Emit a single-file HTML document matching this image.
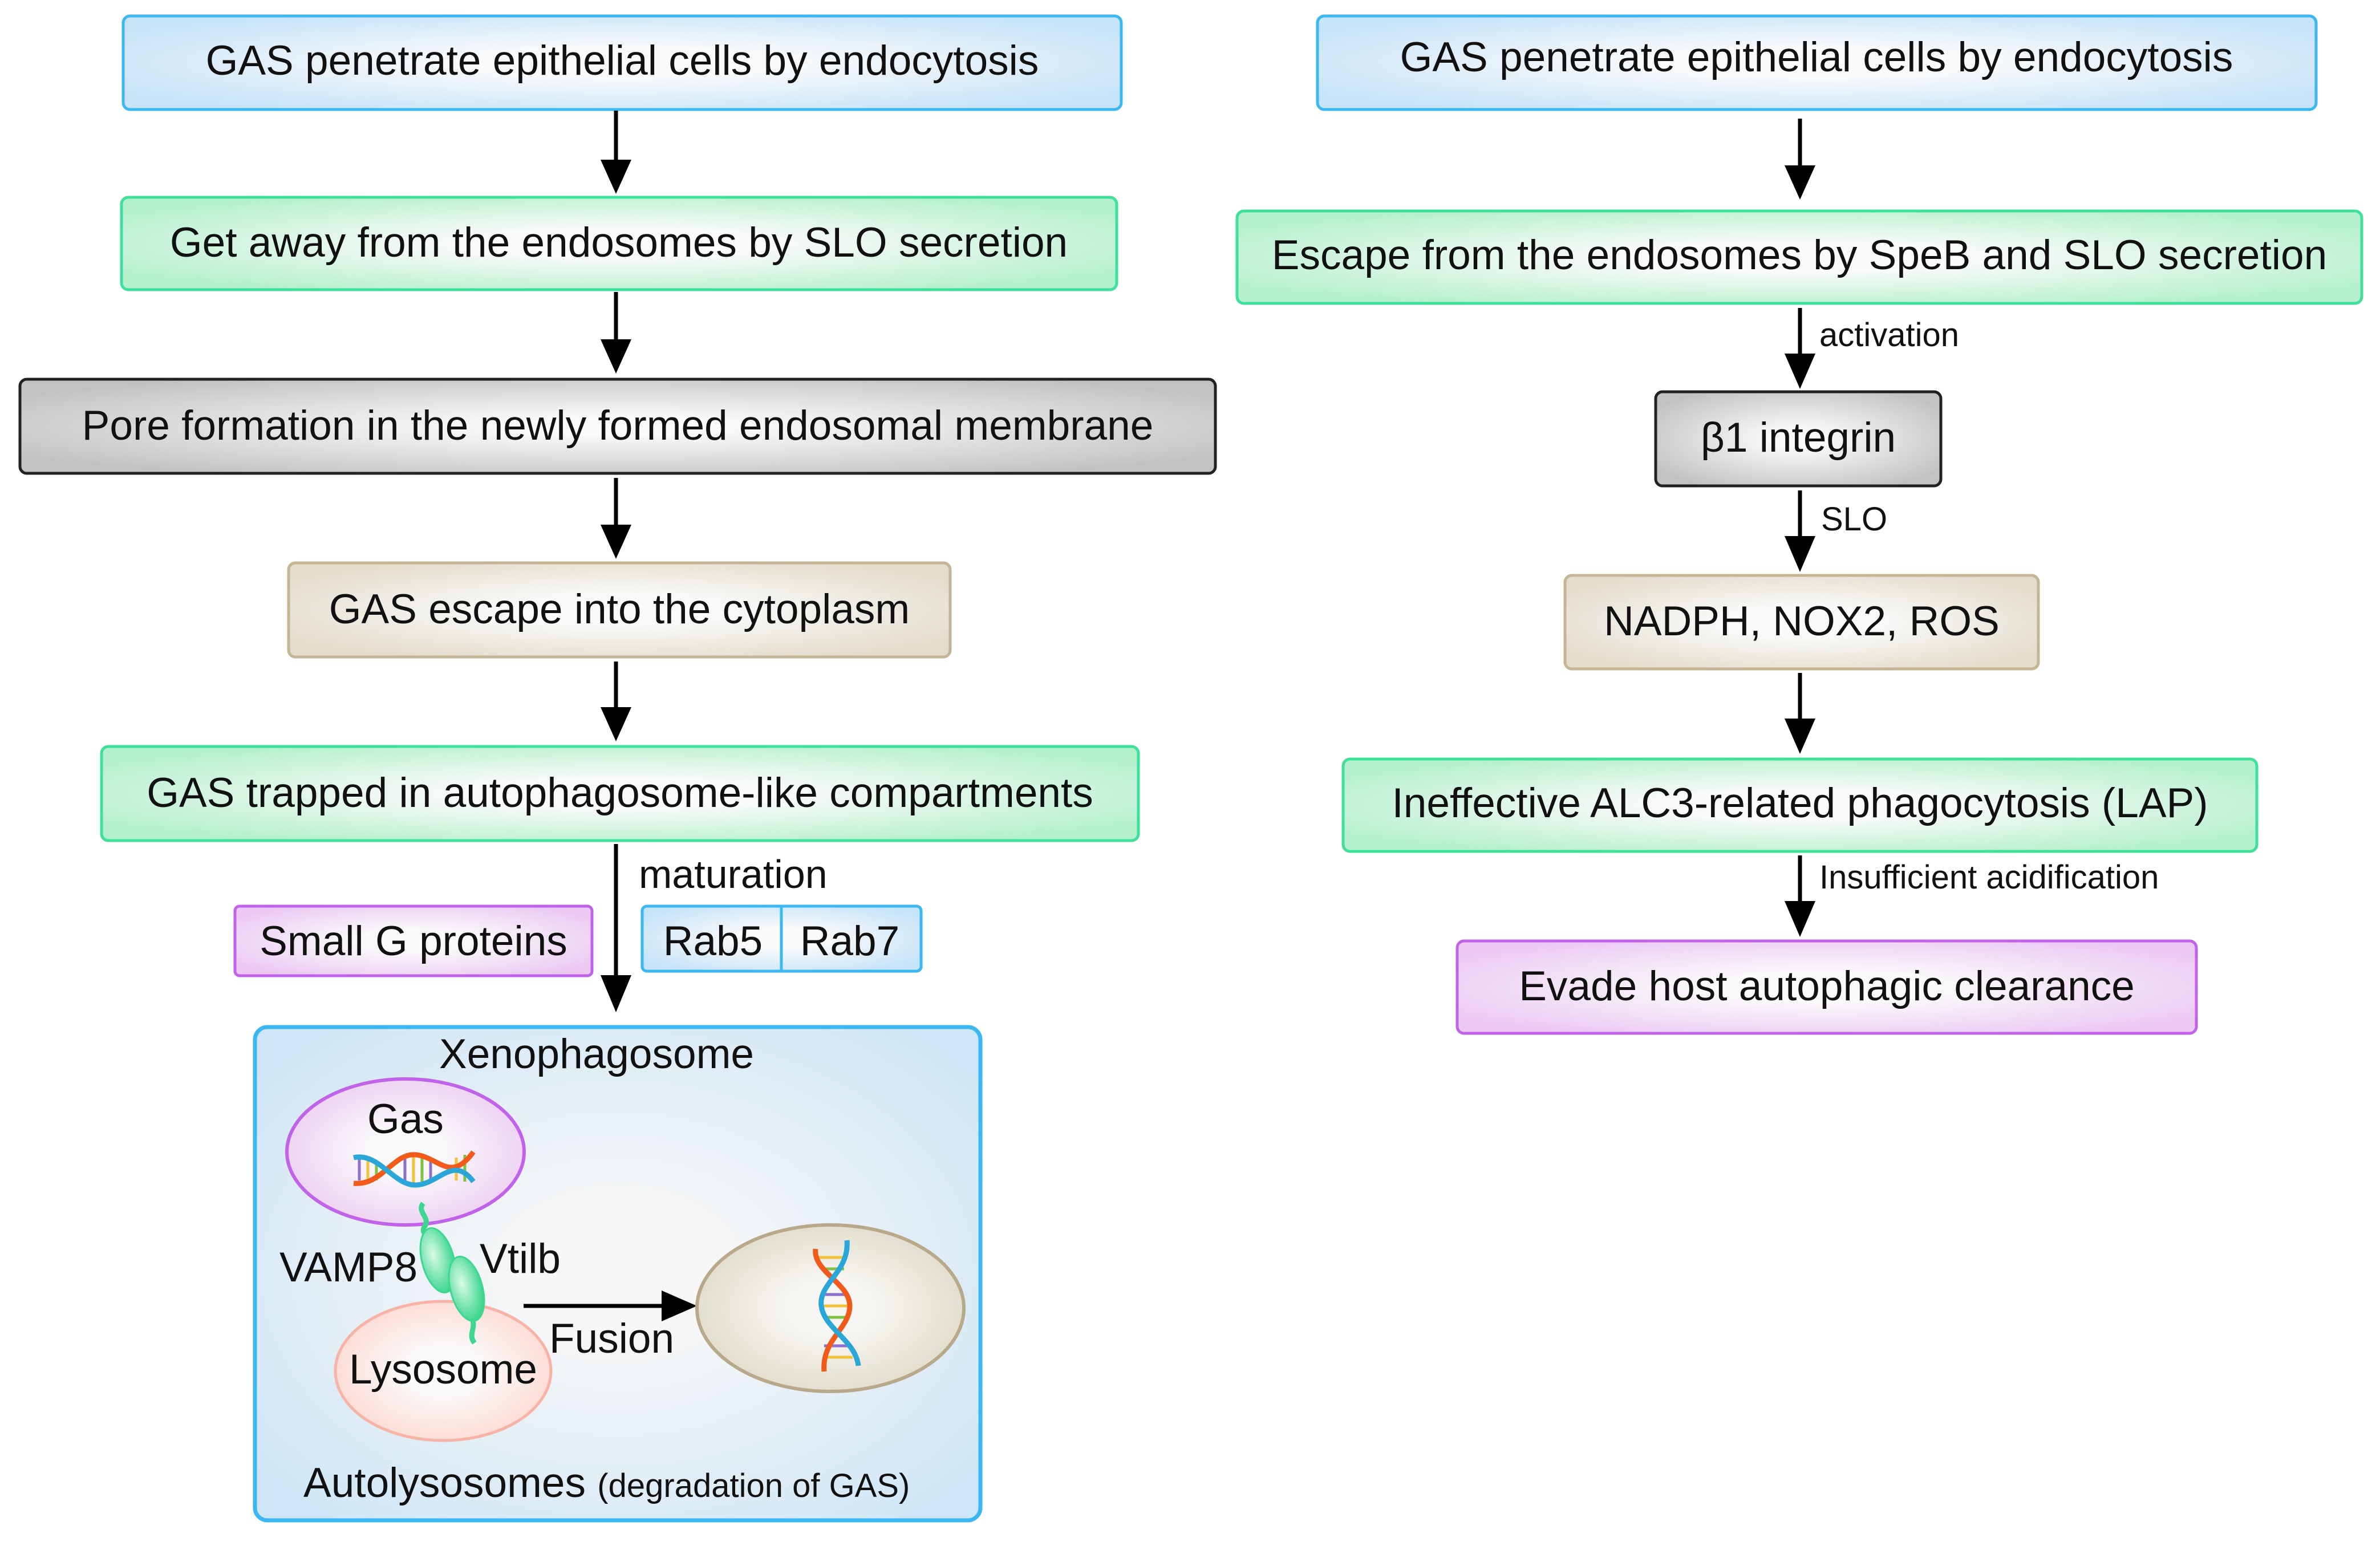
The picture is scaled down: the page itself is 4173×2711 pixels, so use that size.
<!DOCTYPE html>
<html><head><meta charset="utf-8"><style>
html,body{margin:0;padding:0;background:#fff}
svg{display:block}
text{font-family:"Liberation Sans",Arial,sans-serif;fill:#111}
</style></head><body>
<svg width="4173" height="2711" viewBox="0 0 4173 2711" xmlns="http://www.w3.org/2000/svg">
<defs>
<radialGradient id="gb" cx="50%" cy="50%" r="60%"><stop offset="0.25" stop-color="#fafafa"/><stop offset="1" stop-color="#c6e3f8"/></radialGradient>
<radialGradient id="gg" cx="50%" cy="50%" r="60%"><stop offset="0.25" stop-color="#fafafa"/><stop offset="1" stop-color="#b3f0cc"/></radialGradient>
<radialGradient id="gk" cx="50%" cy="50%" r="60%"><stop offset="0.15" stop-color="#fafafa"/><stop offset="1" stop-color="#c2c2c2"/></radialGradient>
<radialGradient id="gt" cx="50%" cy="50%" r="60%"><stop offset="0.25" stop-color="#fafafa"/><stop offset="1" stop-color="#e2dccb"/></radialGradient>
<radialGradient id="gp" cx="50%" cy="50%" r="60%"><stop offset="0.25" stop-color="#fafafa"/><stop offset="1" stop-color="#ebc9f2"/></radialGradient>
<radialGradient id="gx" cx="50%" cy="50%" r="65%"><stop offset="0.2" stop-color="#f7f7f7"/><stop offset="1" stop-color="#cfe6f6"/></radialGradient>
<radialGradient id="gl" cx="50%" cy="50%" r="55%"><stop offset="0.3" stop-color="#fafafa"/><stop offset="1" stop-color="#fcd9d2"/></radialGradient>
<radialGradient id="ge" cx="50%" cy="50%" r="55%"><stop offset="0.3" stop-color="#f7f6f2"/><stop offset="1" stop-color="#e0dbc9"/></radialGradient>
<radialGradient id="gv" cx="40%" cy="40%" r="60%"><stop offset="0" stop-color="#d9fbe8"/><stop offset="1" stop-color="#3fd690"/></radialGradient>
</defs>

<g stroke-width="5">
<rect x="216" y="28" width="1750" height="164" rx="12" fill="url(#gb)" stroke="#3bb7f2"/>
<rect x="213" y="346" width="1745" height="162" rx="12" fill="url(#gg)" stroke="#3fe09a"/>
<rect x="35" y="665" width="2096" height="165" rx="12" fill="url(#gk)" stroke="#222"/>
<rect x="506" y="987" width="1160" height="165" rx="12" fill="url(#gt)" stroke="#c4b594"/>
<rect x="178" y="1309" width="1818" height="165" rx="12" fill="url(#gg)" stroke="#3fe09a"/>
<rect x="412" y="1589" width="626" height="122" rx="8" fill="url(#gp)" stroke="#c063ea"/>
<rect x="1126" y="1589" width="489" height="114" rx="8" fill="url(#gb)" stroke="#3bb7f2"/>
<line x1="1370" y1="1589" x2="1370" y2="1703" stroke="#3bb7f2"/>
<rect x="447" y="1801" width="1272" height="865" rx="22" fill="url(#gx)" stroke="#3bb7f2" stroke-width="7"/>

<rect x="2310" y="28" width="1751" height="164" rx="12" fill="url(#gb)" stroke="#3bb7f2"/>
<rect x="2169" y="370" width="1972" height="162" rx="12" fill="url(#gg)" stroke="#3fe09a"/>
<rect x="2903" y="687" width="500" height="165" rx="12" fill="url(#gk)" stroke="#222"/>
<rect x="2744" y="1009" width="830" height="164" rx="12" fill="url(#gt)" stroke="#c4b594"/>
<rect x="2355" y="1331" width="1602" height="162" rx="12" fill="url(#gg)" stroke="#3fe09a"/>
<rect x="2555" y="1650" width="1296" height="162" rx="12" fill="url(#gp)" stroke="#c063ea"/>
</g>

<g font-size="73" text-anchor="middle">
<text x="1091" y="131">GAS penetrate epithelial cells by endocytosis</text>
<text x="1085" y="450">Get away from the endosomes by SLO secretion</text>
<text x="1083" y="771">Pore formation in the newly formed endosomal membrane</text>
<text x="1086" y="1093">GAS escape into the cytoplasm</text>
<text x="1087" y="1415">GAS trapped in autophagosome-like compartments</text>
<text x="725" y="1675">Small G proteins</text>
<text x="1250" y="1675">Rab5</text>
<text x="1490" y="1675">Rab7</text>
<text x="1046" y="1873">Xenophagosome</text>
<text x="3185" y="125">GAS penetrate epithelial cells by endocytosis</text>
<text x="3155" y="472">Escape from the endosomes by SpeB and SLO secretion</text>
<text x="3153" y="792">β1 integrin</text>
<text x="3159" y="1114">NADPH, NOX2, ROS</text>
<text x="3156" y="1433">Ineffective ALC3-related phagocytosis (LAP)</text>
<text x="3203" y="1754">Evade host autophagic clearance</text>
</g>
<text x="1120" y="1557" font-size="70">maturation</text>
<g font-size="58">
<text x="3190" y="607">activation</text>
<text x="3193" y="930">SLO</text>
<text x="3190" y="1558">Insufficient acidification</text>
</g>

<g stroke="#000" stroke-width="7">
<line x1="1080" y1="194" x2="1080" y2="290"/>
<line x1="1080" y1="512" x2="1080" y2="605"/>
<line x1="1080" y1="838" x2="1080" y2="930"/>
<line x1="1080" y1="1160" x2="1080" y2="1250"/>
<line x1="1080" y1="1480" x2="1080" y2="1720"/>
<line x1="3156" y1="208" x2="3156" y2="300"/>
<line x1="3156" y1="540" x2="3156" y2="630"/>
<line x1="3156" y1="860" x2="3156" y2="950"/>
<line x1="3156" y1="1180" x2="3156" y2="1270"/>
<line x1="3156" y1="1500" x2="3156" y2="1590"/>
<line x1="918" y1="2290" x2="1170" y2="2290"/>
</g>
<g fill="#000">
<polygon points="1053,280 1107,280 1080,340"/>
<polygon points="1053,595 1107,595 1080,655"/>
<polygon points="1053,920 1107,920 1080,980"/>
<polygon points="1053,1240 1107,1240 1080,1300"/>
<polygon points="1053,1710 1107,1710 1080,1775"/>
<polygon points="3129,290 3183,290 3156,350"/>
<polygon points="3129,620 3183,620 3156,682"/>
<polygon points="3129,940 3183,940 3156,1003"/>
<polygon points="3129,1260 3183,1260 3156,1322"/>
<polygon points="3129,1580 3183,1580 3156,1643"/>
<polygon points="1160,2263 1160,2317 1222,2290"/>
</g>

<ellipse cx="711" cy="2020" rx="208" ry="128" fill="url(#gp)" stroke="#c063ea" stroke-width="6"/>
<ellipse cx="777" cy="2404" rx="189" ry="122" fill="url(#gl)" stroke="#f9b3a6" stroke-width="5"/>
<ellipse cx="1456" cy="2294" rx="234" ry="146" fill="url(#ge)" stroke="#b7a98a" stroke-width="6"/>

<g transform="translate(620,2050)">
<g stroke-width="5">
<line x1="10" y1="-25" x2="10" y2="20" stroke="#8e6fd0"/><line x1="25" y1="-20" x2="25" y2="25" stroke="#f2c23a"/>
<line x1="40" y1="-12" x2="40" y2="20" stroke="#7fc241"/><line x1="90" y1="-20" x2="90" y2="25" stroke="#8e6fd0"/>
<line x1="105" y1="-25" x2="105" y2="25" stroke="#f2c23a"/><line x1="120" y1="-22" x2="120" y2="22" stroke="#7fc241"/>
<line x1="135" y1="-15" x2="135" y2="18" stroke="#8e6fd0"/><line x1="180" y1="-20" x2="180" y2="20" stroke="#f2c23a"/>
<line x1="195" y1="-25" x2="195" y2="22" stroke="#7fc241"/>
</g>
<path d="M0,25 C50,30 70,-30 110,-25 S170,25 210,-30" fill="none" stroke="#f25a1c" stroke-width="9"/>
<path d="M0,-20 C45,-30 70,30 110,28 S175,-25 210,22" fill="none" stroke="#2ba6d8" stroke-width="9"/>
</g>
<g transform="translate(1465,2290)">
<g stroke-width="5">
<line x1="-30" y1="-85" x2="20" y2="-85" stroke="#f2c23a"/><line x1="-25" y1="-65" x2="15" y2="-65" stroke="#7fc241"/>
<line x1="-20" y1="-20" x2="20" y2="-20" stroke="#8e6fd0"/><line x1="-25" y1="0" x2="25" y2="0" stroke="#f2c23a"/>
<line x1="-20" y1="20" x2="20" y2="20" stroke="#7fc241"/><line x1="-20" y1="70" x2="25" y2="70" stroke="#8e6fd0"/>
<line x1="-20" y1="90" x2="30" y2="90" stroke="#f2c23a"/>
</g>
<path d="M-35,-100 C-40,-60 25,-40 25,0 S-25,60 -20,115" fill="none" stroke="#f25a1c" stroke-width="9"/>
<path d="M20,-115 C25,-60 -30,-40 -25,0 S35,60 40,105" fill="none" stroke="#2ba6d8" stroke-width="9"/>
</g>

<path d="M742,2110 C730,2125 755,2135 745,2150 S755,2165 760,2175" fill="none" stroke="#3fd690" stroke-width="9"/>
<ellipse cx="768" cy="2210" rx="28" ry="58" transform="rotate(-15 768 2210)" fill="url(#gv)" stroke="#3fd690" stroke-width="3"/>
<ellipse cx="818" cy="2260" rx="28" ry="58" transform="rotate(-15 818 2260)" fill="url(#gv)" stroke="#3fd690" stroke-width="3"/>
<path d="M828,2312 C835,2330 820,2340 832,2355" fill="none" stroke="#3fd690" stroke-width="9"/>

<g font-size="73">
<text x="711" y="1987" text-anchor="middle">Gas</text>
<text x="490" y="2247">VAMP8</text>
<text x="841" y="2232">Vtilb</text>
<text x="777" y="2426" text-anchor="middle">Lysosome</text>
<text x="963" y="2372">Fusion</text>
<text x="532" y="2625">Autolysosomes <tspan font-size="58">(degradation of GAS)</tspan></text>
</g>
</svg>
</body></html>
